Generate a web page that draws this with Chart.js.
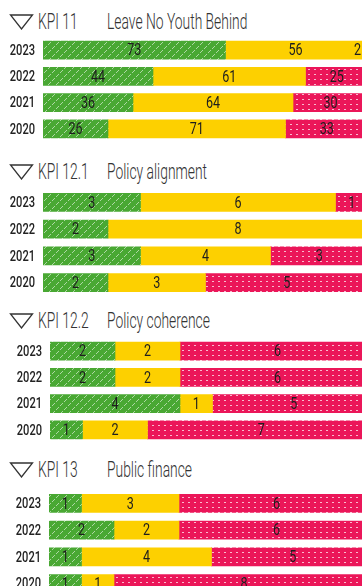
<!DOCTYPE html>
<html>
<head>
<meta charset="utf-8">
<script src="https://cdn.jsdelivr.net/npm/chart.js@4/dist/chart.umd.min.js"></script>
<style>
  html, body { margin: 0; padding: 0; background: #fff; }
  body { width: 362px; height: 586px; overflow: hidden; position: relative; font-family: Roboto, sans-serif; }
  .title { position: absolute; left: 0; width: 362px; height: 26px; line-height: 26px; font-size: 22px; font-weight: 300; color: #333; white-space: nowrap; }
  .title svg { position: absolute; left: 9px; top: 5px; }
  .title span { position: absolute; display: inline-block; transform: scaleX(0.63); transform-origin: 0 50%; }
  .title .kpi { left: 38px; }
  .title .name { left: 107px; }
  canvas { position: absolute; left: 0; }
</style>
</head>
<body>
<div class="title" style="top:9px"><svg width="25" height="16"><polygon points="1.5,1 23.5,1 12.5,15" fill="none" stroke="#333" stroke-width="1.3"/></svg><span class="kpi">KPI 11</span><span class="name">Leave No Youth Behind</span></div>
<div class="title" style="top:159px"><svg width="25" height="16"><polygon points="1.5,1 23.5,1 12.5,15" fill="none" stroke="#333" stroke-width="1.3"/></svg><span class="kpi">KPI 12.1</span><span class="name">Policy alignment</span></div>
<div class="title" style="top:308px"><svg width="25" height="16"><polygon points="1.5,1 23.5,1 12.5,15" fill="none" stroke="#333" stroke-width="1.3"/></svg><span class="kpi">KPI 12.2</span><span class="name">Policy coherence</span></div>
<div class="title" style="top:457px"><svg width="25" height="16"><polygon points="1.5,1 23.5,1 12.5,15" fill="none" stroke="#333" stroke-width="1.3"/></svg><span class="kpi">KPI 13</span><span class="name">Public finance</span></div>

<canvas id="kpi11" width="368" height="105" style="top:37px"></canvas>
<canvas id="kpi121" width="368" height="107" style="top:189px"></canvas>
<canvas id="kpi122" width="375" height="105" style="top:338px"></canvas>
<canvas id="kpi13" width="374" height="107" style="top:490px"></canvas>

<script>
// rows, top to bottom
const years = ['2023', '2022', '2021', '2020'];

// KPI 11 - Leave No Youth Behind
const kpi11Green = [73, 44, 36, 26];
const kpi11Yellow = [56, 61, 64, 71];
const kpi11Red = [2, 25, 30, 33];

// KPI 12.1 - Policy alignment
const kpi121Green = [3, 2, 3, 2];
const kpi121Yellow = [6, 8, 4, 3];
const kpi121Red = [1, 0, 3, 5];

// KPI 12.2 - Policy coherence
const kpi122Green = [2, 2, 4, 1];
const kpi122Yellow = [2, 2, 1, 2];
const kpi122Red = [6, 6, 5, 7];

// KPI 13 - Public finance
const kpi13Green = [1, 2, 1, 1];
const kpi13Yellow = [3, 2, 4, 1];
const kpi13Red = [6, 6, 5, 8];

const VIEW_W = 362;
const SQUEEZE = 0.74; // narrow the glyphs, no condensed face installed

// green with dashed white diagonals
function hatchPattern() {
    const c = document.createElement('canvas');
    c.width = 8; c.height = 8;
    const g = c.getContext('2d');
    g.fillStyle = '#49a833';
    g.fillRect(0, 0, 8, 8);
    g.fillStyle = 'rgba(255,255,255,0.55)';
    for (let i = 0; i < 8; i++) {
        if (i === 3 || i === 7) continue;
        g.fillRect(i, 7 - i, 1, 1);
    }
    return g.createPattern(c, 'repeat');
}

// pink with small white dots
function dotPattern() {
    const c = document.createElement('canvas');
    c.width = 6; c.height = 5;
    const g = c.getContext('2d');
    g.fillStyle = '#eb1659';
    g.fillRect(0, 0, 6, 5);
    g.fillStyle = 'rgba(255,255,255,0.7)';
    g.fillRect(2, 2, 2, 1);
    return g.createPattern(c, 'repeat');
}

const greenFill = hatchPattern();
const redFill = dotPattern();
const yellowFill = '#fdd000';

function squeezedText(ctx, text, x, y, align) {
    ctx.save();
    ctx.translate(x, y);
    ctx.scale(SQUEEZE, 1);
    ctx.textAlign = align;
    ctx.fillText(text, 0, 0);
    ctx.restore();
}

// year labels on the left and values centred in each segment
const rowLabels = {
    id: 'rowLabels',
    afterDatasetsDraw(chart) {
        const ctx = chart.ctx;
        const left = chart.canvas.offsetLeft;
        const yScale = chart.scales.y;
        ctx.save();
        ctx.textBaseline = 'middle';
        ctx.fillStyle = '#222';
        ctx.font = '500 15px Roboto, sans-serif';
        years.forEach((yr, i) => {
            squeezedText(ctx, yr, chart.chartArea.left - 8, yScale.getPixelForValue(i) + 1, 'right');
        });
        ctx.font = '17px Roboto, sans-serif';
        ctx.fillStyle = '#1e1e1e';
        chart.data.datasets.forEach((ds, di) => {
            chart.getDatasetMeta(di).data.forEach((bar, i) => {
                const v = ds.data[i];
                if (!v) return;
                const w = ctx.measureText(String(v)).width * SQUEEZE;
                let x = (bar.x + bar.base) / 2;
                x = Math.min(x, VIEW_W - left - w / 2 - 1);
                squeezedText(ctx, String(v), x, bar.y + 1, 'center');
            });
        });
        ctx.restore();
    }
};

function drawPanel(id, green, yellow, red, max, axisWidth) {
    const ctx = document.getElementById(id).getContext('2d');
    return new Chart(ctx, {
        type: 'bar',
        data: {
            labels: years,
            datasets: [
                { data: green, backgroundColor: greenFill },
                { data: yellow, backgroundColor: yellowFill },
                { data: red, backgroundColor: redFill }
            ]
        },
        options: {
            indexAxis: 'y',
            responsive: false,
            animation: false,
            layout: { padding: { left: axisWidth, top: 0, right: 0, bottom: 0 } },
            datasets: { bar: { barThickness: 18, borderWidth: 0 } },
            plugins: { legend: { display: false }, tooltip: { enabled: false } },
            scales: {
                x: { stacked: true, min: 0, max: max, display: false },
                y: { stacked: true, display: false }
            }
        },
        plugins: [rowLabels]
    });
}

drawPanel('kpi11', kpi11Green, kpi11Yellow, kpi11Red, 130, 43);
drawPanel('kpi121', kpi121Green, kpi121Yellow, kpi121Red, 10, 43);
drawPanel('kpi122', kpi122Green, kpi122Yellow, kpi122Red, 10, 50);
drawPanel('kpi13', kpi13Green, kpi13Yellow, kpi13Red, 10, 49);
</script>
</body>
</html>
